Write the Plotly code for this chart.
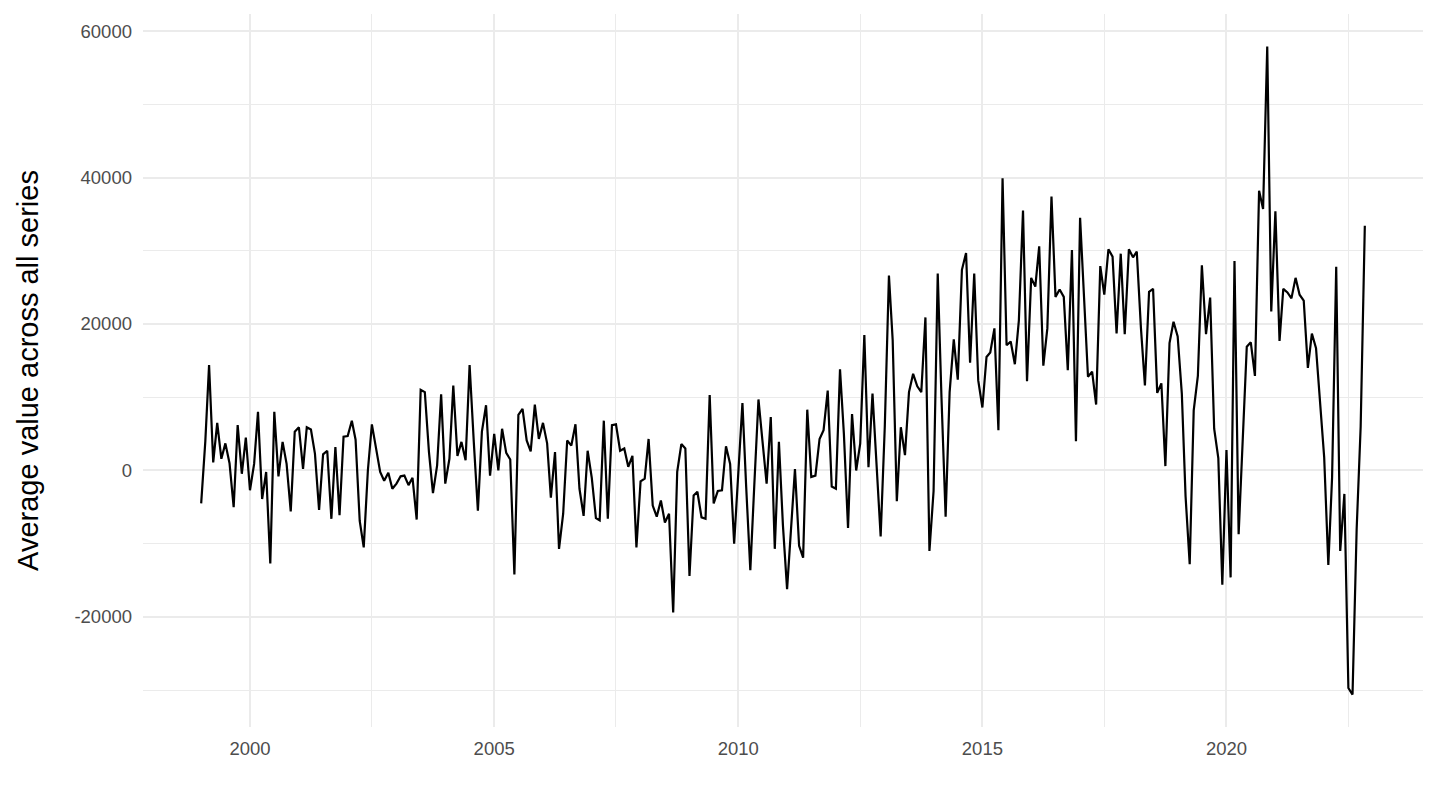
import pandas as pd
import plotly.graph_objects as go

# monthly average, Jan 1999 .. Nov 2022
start_month = "1999-01-01"
avg_1999_2002 = [-4500, 4000, 14400, 1100, 6500, 1600, 3700, 1000, -5000, 6200, -450, 4500,
                 -2700, 900, 8000, -3900, -200, -12700, 8000, -800, 3900, 900, -5600, 5300,
                 5900, 200, 5900, 5600, 2300, -5400, 2200, 2700, -6600, 3200, -6100, 4600,
                 4700, 6800, 4200, -6900, -10500, 0, 6300, 3000, -200, -1400, -300, -2500]
avg_2003_2006 = [-1800, -800, -700, -2000, -1000, -6700, 11000, 10700, 2500, -3100, 700, 10400,
                 -1800, 1600, 11600, 2000, 3900, 1400, 14400, 4000, -5500, 5300, 8900, -700,
                 5000, 0, 5700, 2400, 1500, -14200, 7600, 8400, 4100, 2600, 9000, 4300,
                 6500, 3700, -3700, 2500, -10700, -5900, 4100, 3400, 6300, -2500, -6200, 2700]
avg_2007_2010 = [-1000, -6500, -6800, 6800, -6600, 6200, 6300, 2700, 3000, 500, 2000, -10500,
                 -1500, -1100, 4300, -4800, -6300, -4100, -7100, -5900, -19400, -200, 3600, 3000,
                 -14400, -3400, -2900, -6400, -6600, 10300, -4500, -2800, -2700, 3300, 900, -10000,
                 -500, 9200, -2200, -13600, -1900, 9700, 4000, -1800, 7300, -10700, 3900, -7500]
avg_2011_2014 = [-16200, -7500, 200, -10300, -11900, 8300, -900, -700, 4300, 5500, 10900, -2200,
                 -2500, 13800, 5000, -7850, 7700, 0, 3650, 18500, 450, 10500, 1000, -9000,
                 6000, 26600, 17800, -4200, 5900, 2100, 10700, 13200, 11500, 10700, 20900, -11000,
                 -2800, 26900, 10000, -6300, 10700, 17900, 12400, 27400, 29700, 14700, 26900, 12300]
avg_2015_2018 = [8600, 15500, 16100, 19400, 5500, 39900, 17100, 17600, 14500, 20500, 35500, 12200,
                 26300, 25100, 30600, 14300, 19400, 37400, 23700, 24700, 23700, 13700, 30100, 4000,
                 34500, 22000, 12800, 13500, 9000, 27900, 24000, 30200, 29200, 18700, 29600, 18600,
                 30200, 29100, 29900, 19500, 11600, 24400, 24800, 10600, 11900, 600, 17400, 20300]
avg_2019_2022 = [18300, 10500, -3500, -12800, 8200, 12900, 28000, 18600, 23600, 5700, 1700, -15600,
                 2800, -14600, 28600, -8700, 3500, 16900, 17500, 12900, 38200, 35700, 57900, 21700,
                 35400, 17700, 24800, 24300, 23500, 26300, 24000, 23200, 14000, 18700, 16700, 9000,
                 1800, -12900, -1000, 27800, -11000, -3200, -29700, -30600, -8000, 6000, 33400]

y_ticks = [-20000, 0, 20000, 40000, 60000]
y_tick_labels = ["-20000", "0", "20000", "40000", "60000"]

values = avg_1999_2002 + avg_2003_2006 + avg_2007_2010 + avg_2011_2014 + avg_2015_2018 + avg_2019_2022
dates = pd.date_range(start_month, periods=len(values), freq="MS")

df = pd.DataFrame({"date": dates, "value": values})

fig = go.Figure()
fig.add_trace(go.Scatter(x=df["date"], y=df["value"], mode="lines",
                         line=dict(color="black", width=2.2), showlegend=False))

# ggplot-style 5% expansion on both axes
span = df["date"].max() - df["date"].min()
x_lo = df["date"].min() - span * 0.05
x_hi = df["date"].max() + span * 0.05
vspan = max(values) - min(values)
y_lo = min(values) - vspan * 0.05
y_hi = max(values) + vspan * 0.05

grid = "#EBEBEB"
# page body has an 8px margin, so the figure sits 8px right/down of the window edge
fig.update_layout(
    width=1440, height=810,
    plot_bgcolor="white", paper_bgcolor="white",
    margin=dict(l=135, r=25, t=6, b=91),
    font=dict(family="Liberation Sans, Arial, sans-serif", color="#4D4D4D", size=18.5),
    xaxis=dict(
        range=[x_lo, x_hi], type="date", automargin=False,
        tick0="2000-01-01", dtick="M60", tickformat="%Y",
        showgrid=True, gridcolor=grid, gridwidth=1.8,
        minor=dict(dtick="M30", tick0="2000-01-01", showgrid=True, gridcolor=grid, gridwidth=0.9),
        zeroline=False, showline=False, ticks="",
        ticklabelstandoff=8,
    ),
    yaxis=dict(
        range=[y_lo, y_hi], automargin=False,
        tickvals=y_ticks, ticktext=y_tick_labels,
        showgrid=True, gridcolor=grid, gridwidth=1.8,
        minor=dict(dtick=10000, tick0=0, showgrid=True, gridcolor=grid, gridwidth=0.9),
        zeroline=False, showline=False, ticks="",
        ticklabelstandoff=10,
        title=dict(text="Average value across all series",
                   font=dict(size=29, color="black"), standoff=27),
    ),
)

fig.write_html("out.html")
